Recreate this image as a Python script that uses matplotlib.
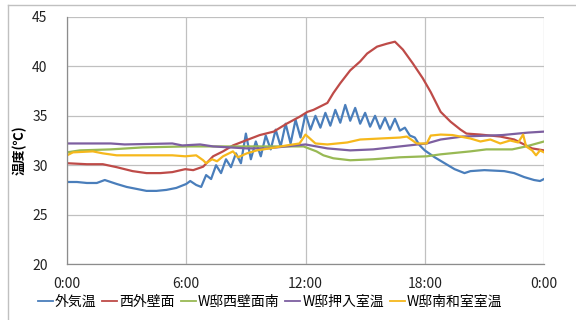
import matplotlib
matplotlib.use("Agg")
import matplotlib.pyplot as plt
from matplotlib.lines import Line2D

plt.rcParams['font.family'] = ['Noto Sans CJK JP', 'DejaVu Sans']

# Hourly readings (hours since 0:00)
t_outside = [0, 0.5, 1.0, 1.5, 1.9, 2.5, 3.0, 3.5, 4.0, 4.5, 5.0, 5.5, 6.0, 6.2,
             6.5, 6.75, 7.0, 7.25, 7.5, 7.75, 8.0, 8.25, 8.5, 8.75, 9.0, 9.25,
             9.5, 9.75, 10.0, 10.25, 10.5, 10.75, 11.0, 11.25, 11.5, 11.75,
             12.0, 12.25, 12.5, 12.75, 13.0, 13.25, 13.5, 13.75, 14.0, 14.25,
             14.5, 14.75, 15.0, 15.25, 15.5, 15.75, 16.0, 16.25, 16.5, 16.75,
             17.0, 17.25, 17.5, 17.75, 18.0, 18.5, 19.0, 19.5, 20.0, 20.3,
             21.0, 22.0, 22.5, 23.0, 23.5, 23.8, 24.0]
outside = [28.3, 28.3, 28.2, 28.2, 28.5, 28.1, 27.8, 27.6, 27.4, 27.4, 27.5, 27.7, 28.1, 28.4,
           28.0, 27.8, 29.0, 28.6, 30.0, 29.2, 30.6, 29.8, 31.2, 30.2, 33.2, 30.6,
           32.4, 30.9, 33.0, 31.6, 33.6, 31.9, 34.2, 32.2, 34.6, 32.8,
           35.2, 33.6, 35.0, 33.8, 35.3, 34.0, 35.6, 34.3, 36.1, 34.5,
           35.8, 34.2, 35.3, 33.9, 35.0, 33.7, 34.8, 33.6, 34.7, 33.5,
           33.8, 33.0, 32.8, 32.0, 31.5, 30.8, 30.2, 29.6, 29.2, 29.4,
           29.5, 29.4, 29.2, 28.8, 28.5, 28.4, 28.6]

t_wall = [0, 1.0, 1.8, 2.5, 3.3, 4.0, 4.7, 5.3, 5.95, 6.35, 6.85, 7.35, 7.85,
          8.35, 9.05, 9.7, 10.4, 11.05, 11.7, 12.1, 12.4, 13.1, 13.4, 13.75,
          14.25, 14.75, 15.1, 15.6, 16.1, 16.5, 16.9, 17.4, 17.9, 18.3, 18.8,
          19.3, 19.8, 20.1, 20.8, 21.8, 22.5, 22.9, 23.4, 24.0]
west_wall = [30.2, 30.1, 30.1, 29.8, 29.4, 29.2, 29.2, 29.3, 29.6, 29.5, 29.85, 30.9, 31.4,
             32.0, 32.55, 33.05, 33.4, 34.2, 34.9, 35.4, 35.6, 36.3, 37.3, 38.3,
             39.6, 40.5, 41.3, 42.0, 42.3, 42.5, 41.7, 40.3, 38.8, 37.4, 35.4,
             34.4, 33.6, 33.2, 33.1, 32.9, 32.6, 32.2, 31.7, 31.5]

t_south = [0, 0.65, 2.2, 3.8, 6.0, 9.0, 11.9, 12.55, 12.9, 13.4, 14.25, 15.4,
           16.75, 18.1, 18.8, 20.3, 21.1, 22.4, 23.1, 24.0]
south_wall = [31.3, 31.5, 31.6, 31.8, 31.9, 31.9, 31.9, 31.4, 31.0, 30.7, 30.5, 30.6,
              30.8, 30.9, 31.1, 31.4, 31.6, 31.6, 31.9, 32.4]

t_closet = [0, 2.2, 2.9, 5.3, 5.8, 6.7, 7.35, 9.05, 10.05, 12.0, 13.1, 14.25,
            15.4, 16.75, 18.1, 18.8, 19.9, 21.9, 23.2, 24.0]
closet = [32.2, 32.2, 32.1, 32.2, 32.0, 32.1, 31.9, 31.7, 31.7, 32.1, 31.7, 31.5,
          31.6, 31.9, 32.2, 32.6, 32.9, 33.05, 33.3, 33.4]

t_room = [0, 0.3, 1.3, 1.8, 2.5, 3.8, 5.3, 5.95, 6.5, 6.85, 7.0, 7.3, 7.55, 7.85,
          8.35, 8.6, 9.05, 9.55, 10.2, 11.05, 11.7, 12.0, 12.5, 13.1, 14.1,
          14.75, 16.75, 17.1, 17.6, 18.1, 18.3, 18.8, 19.4, 20.3, 20.8, 21.3,
          21.8, 22.3, 22.7, 22.95, 23.1, 23.4, 23.6, 23.8, 24.0]
south_room = [31.0, 31.3, 31.4, 31.2, 31.0, 31.0, 31.0, 30.9, 31.0, 30.5, 30.2, 30.6, 30.4, 30.9,
              31.4, 30.8, 31.2, 31.5, 31.7, 32.0, 32.2, 33.1, 32.2, 32.1, 32.3,
              32.6, 32.8, 32.9, 32.2, 32.2, 33.0, 33.1, 33.05, 32.7, 32.4, 32.6,
              32.2, 32.5, 32.3, 33.1, 31.9, 31.5, 31.0, 31.5, 31.3]

series = [
    ('外気温', t_outside, outside, '#4a7ebb'),
    ('西外壁面', t_wall, west_wall, '#be4b48'),
    ('W邸西壁面南', t_south, south_wall, '#98b954'),
    ('W邸押入室温', t_closet, closet, '#7d5fa0'),
    ('W邸南和室室温', t_room, south_room, '#f6b81c'),
]

fig = plt.figure(figsize=(5.76, 3.2), dpi=100)
ax = fig.add_axes([67 / 576, 1 - 264 / 320, 477 / 576, 247 / 320])

for name, t, v, c in series:
    ax.plot(t, v, color=c, lw=1.6, label=name, solid_joinstyle='round')

ax.set_xlim(0, 24)
ax.set_ylim(20, 45)
ax.set_xticks([0, 6, 12, 18, 24])
ax.set_xticklabels(['0:00', '6:00', '12:00', '18:00', '0:00'])
ax.set_yticks(range(20, 46, 5))
ax.grid(True, color='#c0c0c0', lw=0.9)
ax.set_axisbelow(True)
for side in ['top', 'right']:
    ax.spines[side].set_visible(False)
for side in ['left', 'bottom']:
    ax.spines[side].set_color('#8c8c8c')
    ax.spines[side].set_linewidth(0.9)
ax.tick_params(length=0, labelsize=10, colors='#222222')
ax.tick_params(axis='x', pad=9)
ax.tick_params(axis='y', pad=14)

fig.text(20 / 576, 1 - 150 / 320, '温度(℃)', rotation=90, ha='center', va='center',
         fontsize=9.5, fontweight='bold')

handles = [Line2D([], [], color=c, lw=1.3) for _, _, _, c in series]
fig.legend(handles, [s[0] for s in series], loc='center',
           bbox_to_anchor=(270 / 576, 1 - 302 / 320), ncol=5, frameon=False,
           fontsize=10, handlelength=1.1, handletextpad=0.15, columnspacing=0.4)

# chart area frame
fig.add_artist(Line2D([7.5 / 576, 1], [1 - 4.5 / 320] * 2, color='#c0c0c0', lw=1,
                      transform=fig.transFigure))
fig.add_artist(Line2D([7.5 / 576] * 2, [0, 1 - 4.5 / 320], color='#c0c0c0', lw=1,
                      transform=fig.transFigure))

fig.savefig('out.png', dpi=100)
